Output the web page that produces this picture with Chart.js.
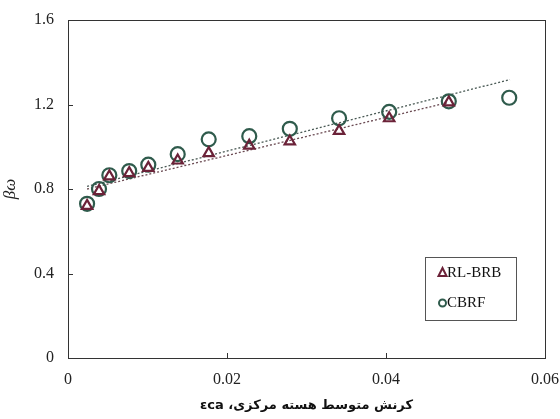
<!DOCTYPE html>
<html>
<head>
<meta charset="utf-8">
<script src="https://cdn.jsdelivr.net/npm/chart.js@4.4.1/dist/chart.umd.min.js"></script>
<style>
  html, body { margin: 0; padding: 0; background: #fff; }
  #wrap { width: 560px; height: 419px; }
</style>
</head>
<body>
<div id="wrap"><canvas id="chart" width="560" height="419"></canvas></div>
<script>
// core strain values (x) and beta-omega values
const strain = [0.0024, 0.0039, 0.0052, 0.0077, 0.0101, 0.0138, 0.0177, 0.0228, 0.0279, 0.0341, 0.0404, 0.0479, 0.0555];
const rlBrb  = [0.72, 0.79, 0.86, 0.875, 0.90, 0.935, 0.97, 1.005, 1.025, 1.075, 1.135, 1.21, null];
const cbrf   = [0.73, 0.80, 0.865, 0.885, 0.915, 0.965, 1.035, 1.05, 1.085, 1.135, 1.165, 1.215, 1.232];

// linear trend line end points
const trendRlX = [0.0024, 0.0479];
const trendRlY = [0.80, 1.21];
const trendCbX = [0.0024, 0.0556];
const trendCbY = [0.812, 1.318];

const yTicks = [0, 0.4, 0.8, 1.2, 1.6];
const xTicks = [0, 0.02, 0.04, 0.06];

const serif = "'Liberation Serif', 'DejaVu Serif', serif";

function pts(xs, ys) {
    return xs.map((x, i) => ({ x: x, y: ys[i] })).filter(p => p.y !== null);
}

// frame, inner ticks and legend box
const framePlugin = {
    id: 'frame',
    afterDraw(chart) {
        const { ctx, chartArea: a, scales } = chart;
        ctx.save();
        ctx.strokeStyle = '#333';
        ctx.lineWidth = 1;
        ctx.strokeRect(a.left + 0.5, a.top + 0.5, a.right - a.left, a.bottom - a.top);
        ctx.beginPath();
        yTicks.forEach(v => {
            const y = Math.round(scales.y.getPixelForValue(v)) + 0.5;
            ctx.moveTo(a.left, y);
            ctx.lineTo(a.left + 5, y);
        });
        xTicks.forEach(v => {
            const x = Math.round(scales.x.getPixelForValue(v)) + 0.5;
            ctx.moveTo(x, a.bottom);
            ctx.lineTo(x, a.bottom - 5);
        });
        ctx.stroke();

        // legend
        const lx = 425, ly = 257, lw = 91, lh = 63;
        ctx.strokeStyle = '#555';
        ctx.strokeRect(lx + 0.5, ly + 0.5, lw, lh);
        ctx.fillStyle = '#111';
        ctx.font = '15px ' + serif;
        ctx.textBaseline = 'middle';
        ctx.fillText('RL-BRB', lx + 22, ly + 16);
        ctx.fillText('CBRF', lx + 22, ly + 46);
        // legend markers
        ctx.lineWidth = 2;
        ctx.strokeStyle = '#6b2238';
        ctx.beginPath();
        ctx.moveTo(lx + 17.5, ly + 11);
        ctx.lineTo(lx + 21.5, ly + 19);
        ctx.lineTo(lx + 13.5, ly + 19);
        ctx.closePath();
        ctx.stroke();
        ctx.strokeStyle = '#2f5b4c';
        ctx.beginPath();
        ctx.arc(lx + 17.5, ly + 46, 3.5, 0, Math.PI * 2);
        ctx.stroke();
        ctx.restore();
    }
};

new Chart(document.getElementById('chart').getContext('2d'), {
    type: 'scatter',
    data: {
        datasets: [
            {
                label: 'RL-BRB',
                data: pts(strain, rlBrb),
                pointStyle: 'triangle',
                pointRadius: 6,
                borderColor: '#6b2238',
                backgroundColor: 'rgba(255,255,255,0)',
                borderWidth: 2.2,
                order: 1
            },
            {
                label: 'CBRF',
                data: pts(strain, cbrf),
                pointStyle: 'circle',
                pointRadius: 7,
                borderColor: '#2f5b4c',
                backgroundColor: 'rgba(255,255,255,0)',
                borderWidth: 2.2,
                order: 2
            },
            {
                label: 'trend RL-BRB',
                data: pts(trendRlX, trendRlY),
                showLine: true,
                pointRadius: 0,
                borderColor: '#6a4a52',
                borderWidth: 1.3,
                borderDash: [2, 2],
                order: 3
            },
            {
                label: 'trend CBRF',
                data: pts(trendCbX, trendCbY),
                showLine: true,
                pointRadius: 0,
                borderColor: '#4a5a55',
                borderWidth: 1.3,
                borderDash: [2, 2],
                order: 3
            }
        ]
    },
    options: {
        responsive: false,
        animation: false,
        layout: { padding: { top: 20, right: 15, left: 0, bottom: 6 } },
        plugins: {
            legend: { display: false },
            tooltip: { enabled: false }
        },
        scales: {
            x: {
                type: 'linear',
                min: 0,
                max: 0.06,
                afterBuildTicks: s => { s.ticks = xTicks.map(v => ({ value: v })); },
                afterFit: s => { s.height = 55; s.paddingLeft = 0; s.paddingRight = 0; },
                grid: { display: false, drawTicks: false },
                border: { display: false },
                ticks: {
                    color: '#222',
                    padding: 12,
                    maxRotation: 0,
                    font: { family: serif, size: 16 },
                    callback: v => String(v)
                },
                title: {
                    display: true,
                    text: '\u202Bکرنش متوسط هسته مرکزی، εca\u202C',
                    color: '#111',
                    font: { family: "'DejaVu Sans', 'Liberation Serif', sans-serif", size: 13, weight: 'bold' },
                    padding: { top: 2, bottom: 0 }
                }
            },
            y: {
                min: 0,
                max: 1.6,
                afterBuildTicks: s => { s.ticks = yTicks.map(v => ({ value: v })); },
                afterFit: s => { s.width = 68; s.paddingTop = 0; s.paddingBottom = 0; },
                grid: { display: false, drawTicks: false },
                border: { display: false },
                ticks: {
                    color: '#222',
                    padding: 14,
                    font: { family: serif, size: 16 },
                    callback: v => String(v)
                },
                title: {
                    display: true,
                    text: 'βω',
                    color: '#222',
                    font: { family: serif, size: 17, style: 'italic' },
                    padding: { top: 0, bottom: 0 }
                }
            }
        }
    },
    plugins: [framePlugin]
});
</script>
</body>
</html>
